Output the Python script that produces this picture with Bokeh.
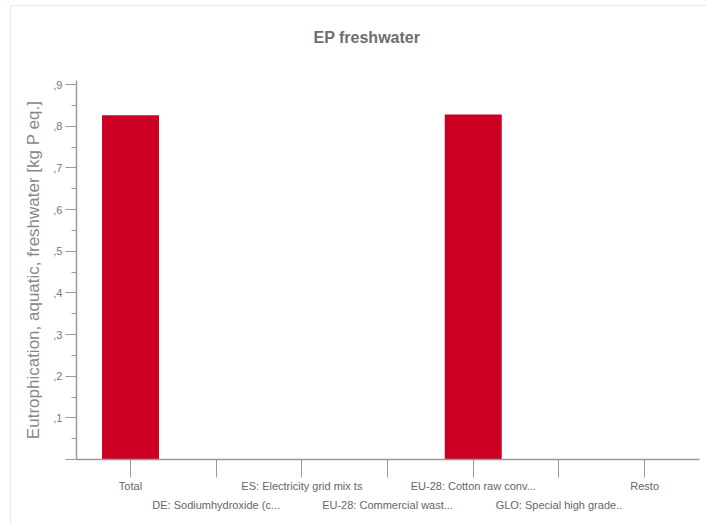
from bokeh.plotting import figure
from bokeh.models import FixedTicker, Range1d, Title
from bokeh.embed import file_html
from bokeh.resources import INLINE

categories = ["Total", "DE: Sodiumhydroxide (c...", "ES: Electricity grid mix ts",
              "EU-28: Commercial wast...", "EU-28: Cotton raw conv...",
              "GLO: Special high grade..", "Resto"]
values = [0.826, 0.0015, 0.0015, 0.0015, 0.828, 0.0015, 0.0015]
y_ticks = [0.0, 0.1, 0.2, 0.3, 0.4, 0.5, 0.6, 0.7, 0.8, 0.9]
y_tick_labels = ["", ",1", ",2", ",3", ",4", ",5", ",6", ",7", ",8", ",9"]
y_minor = [0.05, 0.15, 0.25, 0.35, 0.45, 0.55, 0.65, 0.75, 0.85]

FONT = "Liberation Sans"
xs = list(range(len(categories)))

p = figure(width=696, height=520, output_backend="svg", toolbar_location=None,
           x_range=Range1d(-0.63, 6.64), y_range=Range1d(0, 0.9096),
           min_border_left=65, min_border_right=8, min_border_top=74, min_border_bottom=67)
p.styles = {"margin-left": "10px", "margin-top": "5px",
            "border-left": "1px solid #dcedf7", "border-top": "1px solid #dcedf7"}

p.vbar(x=xs, top=values, width=0.665, bottom=0, color="#cc0022", line_color=None)

# spacer between title and plot area
spacer = Title(text=" ", text_font_size="1px", standoff=12)
p.add_layout(spacer, "above")

p.title.text = "EP freshwater"
p.title.align = "left"
p.title.offset = 237
p.title.text_font = FONT
p.title.text_font_size = "16px"
p.title.text_font_style = "bold"
p.title.text_color = "#6e6e6e"
p.title.standoff = 39

p.grid.visible = False
p.outline_line_color = None
p.background_fill_color = "white"
p.border_fill_color = "white"

xa = p.xaxis[0]
xa.ticker = FixedTicker(ticks=xs)
xa.major_label_overrides = {i: (c if i % 2 == 0 else "\n" + c) for i, c in enumerate(categories)}
xa.major_tick_out = 18
xa.major_tick_in = 0
xa.minor_tick_line_color = None
xa.axis_line_color = "#9a9a9a"
xa.axis_line_width = 1.5
xa.major_tick_line_color = "#9a9a9a"
xa.major_label_text_font = FONT
xa.major_label_text_font_size = "11px"
xa.major_label_text_color = "#666666"
xa.major_label_text_line_height = 1.6
xa.major_label_standoff = 2

ya = p.yaxis[0]
ya.ticker = FixedTicker(ticks=y_ticks, minor_ticks=y_minor)
ya.major_label_overrides = {t: l for t, l in zip(y_ticks, y_tick_labels)}
ya.major_tick_out = 11
ya.major_tick_in = 0
ya.minor_tick_out = 5
ya.minor_tick_in = 0
ya.axis_line_color = "#9a9a9a"
ya.axis_line_width = 1.5
ya.major_tick_line_color = "#9a9a9a"
ya.minor_tick_line_color = "#9a9a9a"
ya.major_label_text_font = FONT
ya.major_label_text_font_size = "11px"
ya.major_label_text_color = "#777777"
ya.major_label_standoff = 3
ya.axis_label = "Eutrophication, aquatic, freshwater [kg P eq.]"
ya.axis_label_text_font = FONT
ya.axis_label_text_font_size = "17px"
ya.axis_label_text_font_style = "normal"
ya.axis_label_text_color = "#888888"
ya.axis_label_standoff = 7

open("out.html", "w").write(file_html(p, INLINE))
